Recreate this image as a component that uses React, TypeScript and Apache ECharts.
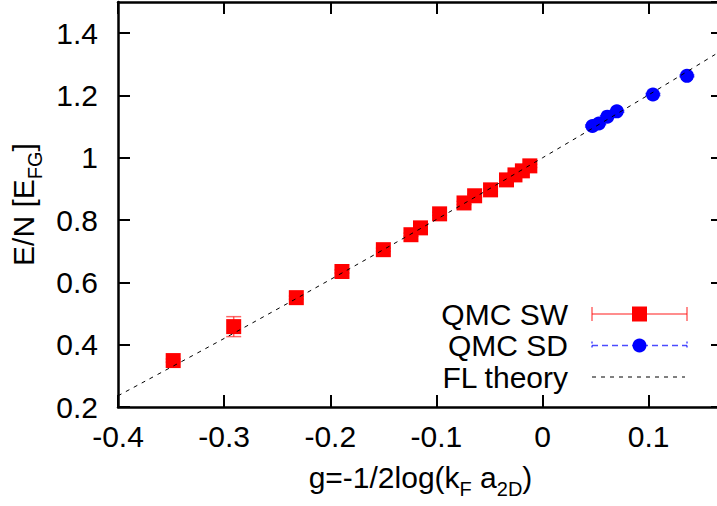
import React, { useEffect, useRef } from "react";
import * as echarts from "echarts";

// QMC SW (red squares)
const swX = [-0.348, -0.291, -0.232, -0.189, -0.150, -0.124, -0.115, -0.097, -0.074, -0.064, -0.049, -0.034, -0.026, -0.019, -0.012];
const swY = [0.349, 0.458, 0.551, 0.635, 0.705, 0.753, 0.775, 0.820, 0.855, 0.878, 0.897, 0.929, 0.945, 0.958, 0.974];
const swErr = [0.005, 0.032, 0.005, 0.005, 0.005, 0.005, 0.005, 0.005, 0.005, 0.005, 0.005, 0.005, 0.005, 0.005, 0.005];

// QMC SD (blue circles)
const sdX = [0.047, 0.053, 0.061, 0.070, 0.104, 0.136];
const sdY = [1.102, 1.110, 1.132, 1.149, 1.203, 1.263];
const sdErr = [0.003, 0.003, 0.003, 0.003, 0.003, 0.003];

// FL theory curve
const flX = [-0.4, -0.3, -0.2, -0.1, 0, 0.1, 0.17];
const flY = [0.236, 0.42, 0.609, 0.802, 1.0, 1.202, 1.347];

const FONT = "'Liberation Sans', Arial, Helvetica, sans-serif";
const FS = 30;

export default function App() {
  const ref = useRef<HTMLDivElement>(null);
  useEffect(() => {
    if (!ref.current) return;
    const chart = echarts.init(ref.current, null, { renderer: "svg" });

    const errRender = (color: string, dash: number[] | null) => (params: any, api: any) => {
      const x = api.value(0);
      const y = api.value(1);
      const e = api.value(2);
      const top = api.coord([x, y + e]);
      const bot = api.coord([x, y - e]);
      const hw = 7.5;
      const style: any = { stroke: color, lineWidth: 1.5, fill: "none" };
      if (dash) style.lineDash = dash;
      return {
        type: "group",
        children: [
          { type: "line", shape: { x1: top[0], y1: top[1], x2: bot[0], y2: bot[1] }, style },
          { type: "line", shape: { x1: top[0] - hw, y1: top[1], x2: top[0] + hw, y2: top[1] }, style },
          { type: "line", shape: { x1: bot[0] - hw, y1: bot[1], x2: bot[0] + hw, y2: bot[1] }, style },
        ],
      };
    };

    const axisLine = { show: true, onZero: false, lineStyle: { color: "#000", width: 2.5 } };
    const axisTick = { show: true, inside: true, length: 12, lineStyle: { color: "#000", width: 2 } };

    const legendY = [314, 345.5, 377];
    const lx1 = 592;
    const lx2 = 687;
    const lmid = 639.5;

    const rich = {
      a: { fontSize: FS, color: "#000", verticalAlign: "top", fontFamily: FONT },
      s: { fontSize: 20, color: "#000", verticalAlign: "top", padding: [17, 0, 0, 0], fontFamily: FONT },
    };

    chart.setOption({
      animation: false,
      textStyle: { fontFamily: FONT },
      grid: { left: 118, right: 7, top: 2, bottom: 99 },
      xAxis: [
        {
          type: "value",
          min: -0.4,
          max: 0.17,
          interval: 0.1,
          position: "bottom",
          axisLine,
          axisTick,
          splitLine: { show: false },
          axisLabel: { show: true, color: "#000", fontSize: FS, margin: 14, showMaxLabel: false, fontFamily: FONT },
          name: "{a|g=-1/2log(k}{s|F}{a| a}{s|2D}{a|)}",
          nameLocation: "middle",
          nameGap: 55,
          nameTextStyle: { color: "#000", fontFamily: FONT, rich },
        },
        {
          type: "value",
          min: -0.4,
          max: 0.17,
          interval: 0.1,
          position: "top",
          axisLine,
          axisTick,
          splitLine: { show: false },
          axisLabel: { show: false },
        },
      ],
      yAxis: [
        {
          type: "value",
          min: 0.2,
          max: 1.5,
          interval: 0.2,
          position: "left",
          axisLine,
          axisTick,
          splitLine: { show: false },
          axisLabel: { show: true, color: "#000", fontSize: FS, margin: 20, showMaxLabel: false, fontFamily: FONT },
          name: "{a|E/N [E}{s|FG}{a|]}",
          nameLocation: "middle",
          nameGap: 72,
          nameTextStyle: { color: "#000", fontFamily: FONT, rich },
        },
        {
          type: "value",
          min: 0.2,
          max: 1.5,
          interval: 0.2,
          position: "right",
          axisLine,
          axisTick,
          splitLine: { show: false },
          axisLabel: { show: false },
        },
      ],
      series: [
        {
          type: "custom",
          name: "QMC SW err",
          renderItem: errRender("rgba(255,0,0,0.6)", null),
          data: swX.map((x, i) => [x, swY[i], swErr[i]]),
          encode: { x: 0, y: 1 },
          z: 2,
        },
        {
          type: "custom",
          name: "QMC SD err",
          renderItem: errRender("rgba(0,0,255,0.7)", [6, 4]),
          data: sdX.map((x, i) => [x, sdY[i], sdErr[i]]),
          encode: { x: 0, y: 1 },
          z: 2,
        },
        {
          type: "scatter",
          name: "QMC SW",
          symbol: "rect",
          symbolSize: 15,
          itemStyle: { color: "#ff0000", opacity: 1 },
          data: swX.map((x, i) => [x, swY[i]]),
          z: 3,
        },
        {
          type: "scatter",
          name: "QMC SD",
          symbol: "circle",
          symbolSize: 14,
          itemStyle: { color: "#0000ff", opacity: 1 },
          data: sdX.map((x, i) => [x, sdY[i]]),
          z: 3,
        },
        {
          type: "line",
          name: "FL theory",
          showSymbol: false,
          symbol: "none",
          smooth: 0.3,
          lineStyle: { color: "#000", width: 1, type: [4, 5] },
          data: flX.map((x, i) => [x, flY[i]]),
          z: 5,
        },
      ],
      graphic: [
        { type: "text", x: 568, y: legendY[0], style: { text: "QMC SW", fontSize: FS, fontFamily: FONT, fill: "#000", align: "right", verticalAlign: "middle" } },
        { type: "text", x: 568, y: legendY[1], style: { text: "QMC SD", fontSize: FS, fontFamily: FONT, fill: "#000", align: "right", verticalAlign: "middle" } },
        { type: "text", x: 568, y: legendY[2], style: { text: "FL theory", fontSize: FS, fontFamily: FONT, fill: "#000", align: "right", verticalAlign: "middle" } },
        { type: "line", shape: { x1: lx1, y1: legendY[0], x2: lx2, y2: legendY[0] }, style: { stroke: "rgba(255,0,0,0.6)", lineWidth: 1.5 } },
        { type: "line", shape: { x1: lx1, y1: legendY[0] - 7, x2: lx1, y2: legendY[0] + 7 }, style: { stroke: "rgba(255,0,0,0.6)", lineWidth: 1.5 } },
        { type: "line", shape: { x1: lx2, y1: legendY[0] - 7, x2: lx2, y2: legendY[0] + 7 }, style: { stroke: "rgba(255,0,0,0.6)", lineWidth: 1.5 } },
        { type: "rect", shape: { x: lmid - 7.5, y: legendY[0] - 7.5, width: 15, height: 15 }, style: { fill: "#ff0000" } },
        { type: "line", shape: { x1: lx1, y1: legendY[1], x2: lx2, y2: legendY[1] }, style: { stroke: "rgba(0,0,255,0.7)", lineWidth: 1.5, lineDash: [6, 4] } },
        { type: "line", shape: { x1: lx1, y1: legendY[1] - 4, x2: lx1, y2: legendY[1] + 4 }, style: { stroke: "rgba(0,0,255,0.7)", lineWidth: 1.5, lineDash: [2, 2] } },
        { type: "line", shape: { x1: lx2, y1: legendY[1] - 4, x2: lx2, y2: legendY[1] + 4 }, style: { stroke: "rgba(0,0,255,0.7)", lineWidth: 1.5, lineDash: [2, 2] } },
        { type: "circle", shape: { cx: lmid, cy: legendY[1], r: 7 }, style: { fill: "#0000ff" } },
        { type: "line", shape: { x1: lx1, y1: legendY[2], x2: lx2 - 2, y2: legendY[2] }, style: { stroke: "#000", lineWidth: 1, lineDash: [4, 5] } },
      ],
    });
    return () => chart.dispose();
  }, []);
  return (
    <div style={{ position: "absolute", left: 0, top: 0, width: 717, height: 506, overflow: "hidden", background: "#fff" }}>
      <div ref={ref} style={{ position: "absolute", left: 0, top: 0, width: 730, height: 506 }} />
    </div>
  );
}
